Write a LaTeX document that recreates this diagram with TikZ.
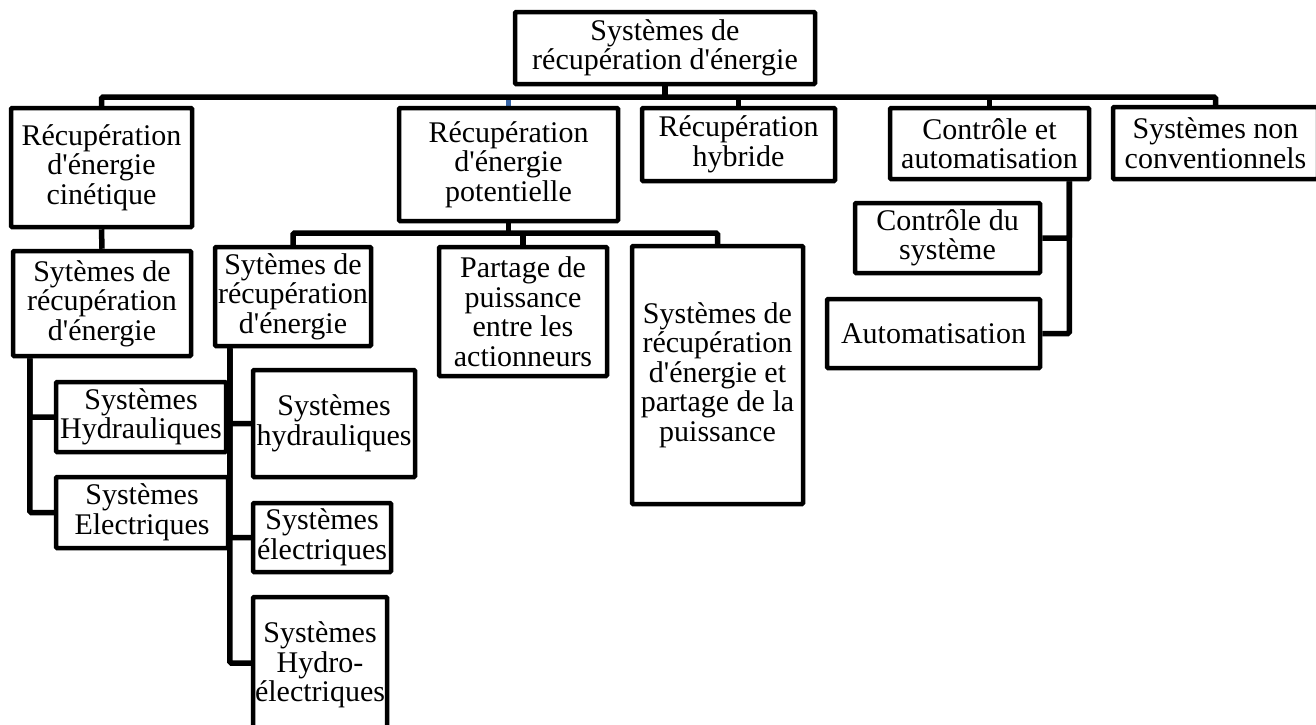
\documentclass[tikz,border=0pt]{standalone}
\usepackage{fontspec}
\setmainfont{Liberation Serif}[Ligatures=TeXOff]
\usetikzlibrary{backgrounds}
\definecolor{stubblue}{RGB}{58,103,168}
\tikzset{
  box/.style={draw=black, fill=white, line width=4.5pt, inner sep=0pt, align=center,
    font=\fontsize{30}{29.5}\selectfont, rounded corners=1pt},
  conn/.style={draw=black, line width=5.5pt, rounded corners=1.5pt},
}
\begin{document}
\begin{tikzpicture}[x=1pt,y=-1pt]
\useasboundingbox (0,0) rectangle (1316,724);
\clip (0,0) rectangle (1316,724);

% top level
\node[box, minimum width=300pt, minimum height=72pt] (root) at (665,48) {Systèmes de\\récupération d'énergie};
\node[box, minimum width=181pt, minimum height=119pt] (cin) at (101.5,167.5) {Récupération\\d'énergie\\cinétique};
\node[box, minimum width=219pt, minimum height=113pt] (pot) at (508.5,164.5) {Récupération\\d'énergie\\potentielle};
\node[box, minimum width=193pt, minimum height=73pt] (hyb) at (738.5,144.5) {Récupération\\hybride};
\node[box, minimum width=199pt, minimum height=71pt] (ctl) at (989.5,143.5) {Contrôle et\\automatisation};
\node[box, minimum width=205pt, minimum height=72pt] (nonc) at (1215.5,143) {Systèmes non\\conventionnels};

% kinetic branch
\node[box, minimum width=178pt, minimum height=105pt] (syt1) at (102,303.5) {Sytèmes de\\récupération\\d'énergie};
\node[box, minimum width=170pt, minimum height=70pt] (hyd1) at (141,417) {Systèmes\\Hydrauliques};
\node[box, minimum width=172pt, minimum height=71pt] (ele1) at (142,512.5) {Systèmes\\Electriques};

% potential branch
\node[box, minimum width=156pt, minimum height=99pt] (syt2) at (293,296.5) {Sytèmes de\\récupération\\d'énergie};
\node[box, minimum width=162pt, minimum height=107pt] (hyd2) at (334,423.5) {Systèmes\\hydrauliques};
\node[box, minimum width=138pt, minimum height=69pt] (ele2) at (322,537.5) {Systèmes\\électriques};
\node[box, minimum width=134pt, minimum height=136pt] (hel) at (320,665) {Systèmes\\Hydro-\\électriques};
\node[box, minimum width=168pt, minimum height=129pt] (part) at (523,311.5) {Partage de\\puissance\\entre les\\actionneurs};
\node[box, minimum width=171pt, minimum height=258pt] (big) at (717.5,375) {Systèmes de\\récupération\\d'énergie et\\partage de la\\puissance};

% control branch
\node[box, minimum width=185pt, minimum height=70pt] (csys) at (947.5,238) {Contrôle du\\système};
\node[box, minimum width=213pt, minimum height=69pt] (auto) at (933.5,333.5) {Automatisation};

\coordinate (bus) at (665,97);
\coordinate (bus2) at (508.5,233);

\begin{scope}[on background layer]
  \fill[white] (0,0) rectangle (1316,724);
  \draw[conn, draw=stubblue, rounded corners=0pt] (pot.north |- bus) -- (pot.north);
  \draw[conn] (root.south) -- (bus);
  \draw[conn] (cin.north) |- (bus) -| (nonc.north);
  \draw[conn] (hyb.north |- bus) -- (hyb.north);
  \draw[conn] (ctl.north |- bus) -- (ctl.north);

  \draw[conn] (cin.south) -- (syt1.north);
  \draw[conn] ([xshift=19pt]syt1.south west) |- (ele1.west);
  \draw[conn] ([xshift=19pt]syt1.south west) |- (hyd1.west);

  \draw[conn] (pot.south) -- (bus2);
  \draw[conn] (syt2.north) |- (bus2) -| (big.north);
  \draw[conn] (part.north |- bus2) -- (part.north);
  \draw[conn] ([xshift=17pt]syt2.south west) |- ([yshift=2pt]hel.west);
  \draw[conn] ([xshift=17pt]syt2.south west) |- (hyd2.west);
  \draw[conn] ([xshift=17pt]syt2.south west) |- (ele2.west);

  \draw[conn] ([xshift=-22pt]ctl.south east) |- (auto.east);
  \draw[conn] ([xshift=-22pt]ctl.south east) |- (csys.east);
\end{scope}
\end{tikzpicture}
\end{document}
